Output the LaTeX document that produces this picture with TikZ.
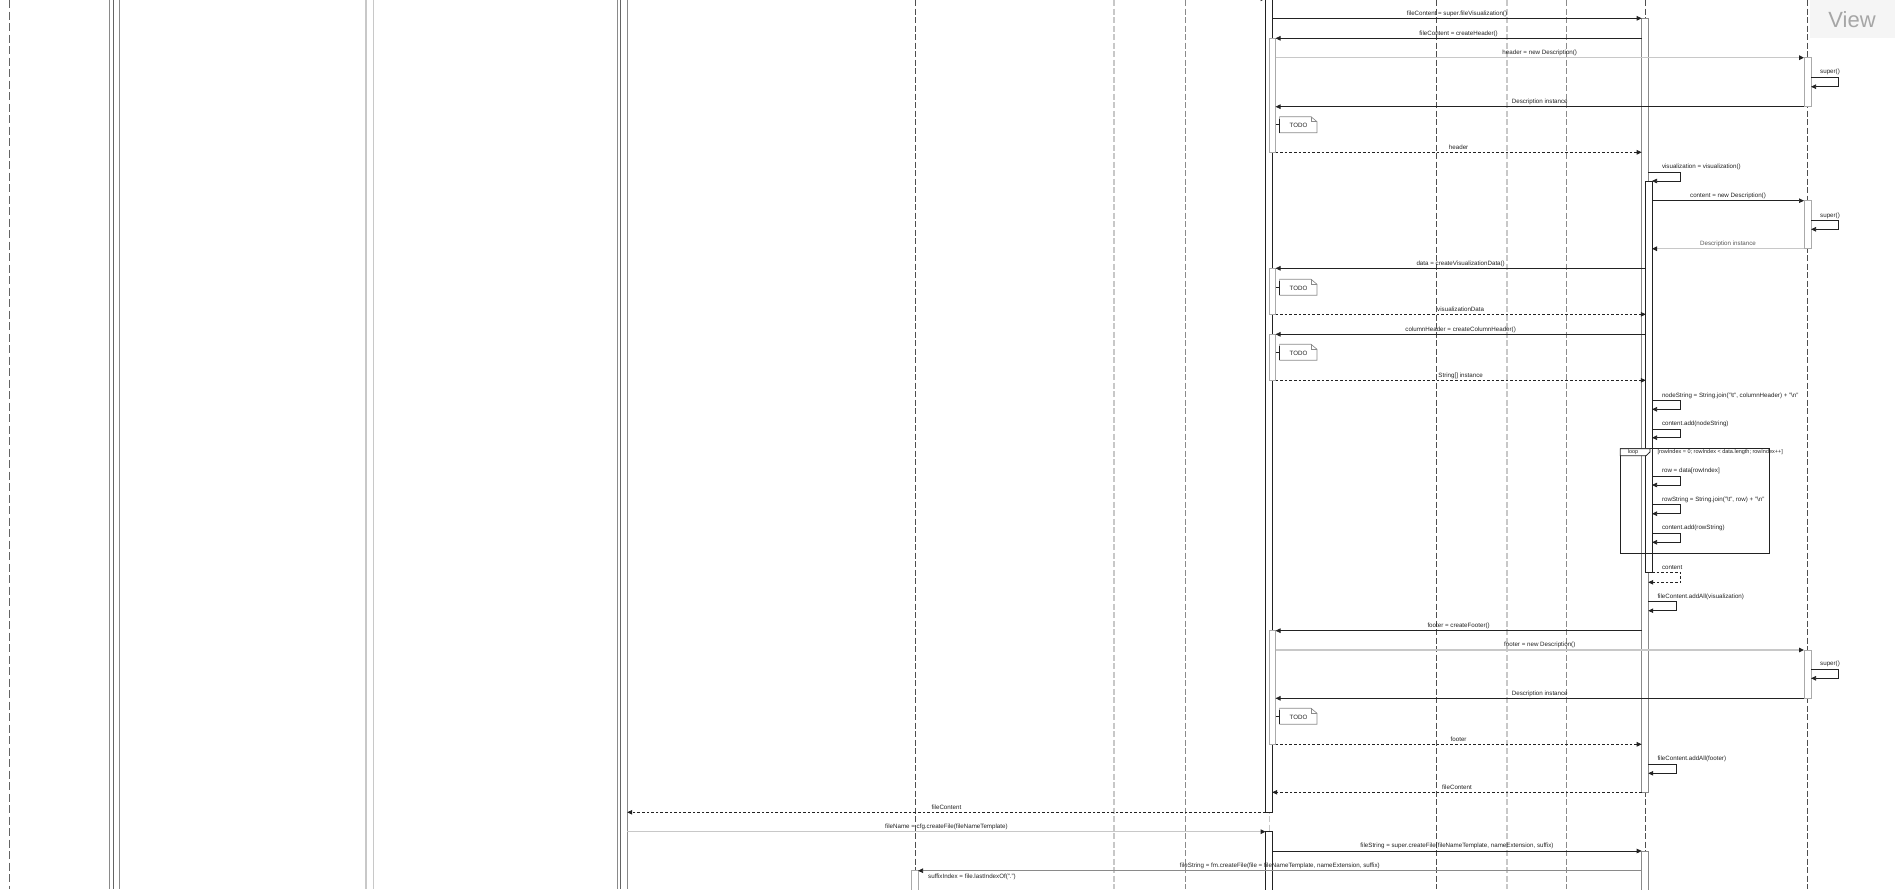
\documentclass[tikz,border=0pt]{standalone}
\usepackage{fontspec}
\setmainfont{Liberation Sans}
\usetikzlibrary{arrows.meta}

\definecolor{ink}{HTML}{222222}
\definecolor{midgray}{HTML}{8A8A8A}
\definecolor{softgray}{HTML}{C8C8C8}
\definecolor{viewbg}{HTML}{F5F5F5}
\definecolor{viewtxt}{HTML}{A6A6A6}

\tikzset{
  lifeline/.style={draw=ink!80, line width=0.7pt, dash pattern=on 6pt off 2.5pt},
  lifesoft/.style={draw=softgray, line width=1.4pt, dash pattern=on 6pt off 2.5pt},
  lifemid/.style={draw=midgray, line width=0.8pt, dash pattern=on 6pt off 2.5pt},
  railmid/.style={draw=midgray, line width=0.7pt},
  raildark/.style={draw=ink!70, line width=0.9pt},
  railsoft/.style={draw=softgray, line width=1.4pt},
  actdark/.style={draw=ink, fill=white, line width=0.75pt},
  actmid/.style={draw=midgray, fill=white, line width=0.75pt},
  actsoft/.style={draw=softgray!85!black, fill=white, line width=0.75pt},
  tip/.style={-{Triangle[length=5pt,width=4.5pt,color=ink]}},
  call/.style={draw=ink, line width=0.7pt, tip},
  callsoft/.style={draw=softgray, line width=1.4pt, tip},
  callmid/.style={draw=midgray, line width=0.7pt, tip},
  reply/.style={draw=ink, line width=0.7pt, dash pattern=on 2.6pt off 2pt, tip},
  lbl/.style={font=\fontsize{6.2}{7}\selectfont, text=ink, inner sep=0pt},
  notebox/.style={draw=midgray, fill=white, line width=0.65pt},
}

% message between two lifelines: name, style, x from, x to, y, label
\newcommand\msgline[6]{%
  \coordinate (#1s) at (#3,#5);
  \coordinate (#1e) at (#4,#5);
  \draw[#2] (#1s) -- node[lbl, anchor=base, yshift=3.1pt] (#1l) {#6} (#1e);}

% self message: name, style, x out, x right, x back, y top, y bottom
\newcommand\selfline[7]{%
  \coordinate (#1s) at (#3,#6);
  \coordinate (#1e) at (#5,#7);
  \draw[#2] (#1s) -- (#4,#6) -- (#4,#7) -- (#1e);}

% note attached to the controller bar: name, top y
\newcommand\todonote[2]{%
  \coordinate (#1a) at (1275.5,#2+8);
  \coordinate (#1b) at (1279.6,#2+8);
  \draw[notebox] (1279.6,#2) -- (1311,#2) -- (1317,#2+5) -- (1317,#2+16) -- (1279.6,#2+16) -- cycle;
  \draw[midgray, line width=0.5pt] (1311,#2) -- (1311,#2+5) -- (1317,#2+5);
  \draw[ink, line width=0.75pt] (1279.6,#2+2) -- (1279.6,#2+16);
  \draw[ink, line width=0.65pt] (#1a) -- (#1b);
  \node[lbl] (#1t) at (1298.5,#2+8.6) {TODO};}

\begin{document}
\begin{tikzpicture}[x=1pt, y=-1pt]
\useasboundingbox (0,0) rectangle (1895,889);
\clip (0,0) rectangle (1895,889);

% ---- lifelines ----
\draw[lifeline, draw=ink!70, dash pattern=on 8pt off 3.5pt] (9.5,0) -- (9.5,889);
\draw[railmid] (109.3,0) -- (109.3,889);
\draw[raildark] (113.3,0) -- (113.3,889);
\draw[railmid] (119.3,0) -- (119.3,889);
\draw[railsoft] (366,0) -- (366,889);
\draw[railsoft, line width=1pt] (373.3,0) -- (373.3,889);
\draw[railmid] (617.2,0) -- (617.2,889);
\draw[raildark] (620.6,0) -- (620.6,889);
\draw[railmid] (627.2,0) -- (627.2,889);
\draw[lifeline] (915.5,0) -- (915.5,889);
\draw[lifesoft] (1114,0) -- (1114,889);
\draw[lifemid] (1185.5,0) -- (1185.5,889);
\draw[lifesoft, line width=1pt] (1269,0) -- (1269,889);
\draw[lifeline] (1436,0) -- (1436,889);
\draw[lifesoft] (1507,0) -- (1507,889);
\draw[lifemid] (1566,0) -- (1566,889);
\draw[lifeline] (1645,0) -- (1645,889);
\draw[lifeline] (1807.5,0) -- (1807.5,889);

% ---- header of the View lifeline ----
\fill[viewbg] (1809.5,0) rectangle (1895,38.3);
\node[font=\fontsize{22}{24}\selectfont, text=viewtxt, inner sep=0pt] (view) at (1852,20) {View};

% ---- activation bars ----
\draw[actdark] (1265.6,-5) rectangle (1272.2,812.3);
\draw[actdark] (1265.6,831.7) rectangle (1272.2,895);
\draw[actsoft] (1269,38.3) rectangle (1275.5,152.3);
\draw[actsoft] (1269,268.3) rectangle (1275.5,314.3);
\draw[actsoft] (1269,334.3) rectangle (1275.5,380.3);
\draw[actsoft] (1269,630.7) rectangle (1275.5,744.3);
\draw[actmid] (1641.7,18.3) rectangle (1648.2,792.3);
\draw[actdark] (1645.8,181) rectangle (1652,572.7);
\draw[actmid] (1641.7,851) rectangle (1648.2,895);
\draw[actsoft] (1804,57.7) rectangle (1811,106.7);
\draw[actsoft] (1804,200.7) rectangle (1811,248.7);
\draw[actsoft] (1804,650) rectangle (1811,698.3);
\draw[actsoft] (911,870.7) rectangle (918,895);

% ---- incoming call cut at the top ----
\coordinate (m0s) at (1150,-1.3);
\coordinate (m0e) at (1265.6,-1.3);
\draw[callsoft] (m0s) -- (m0e);

% ---- header ----
\msgline{m1}{call}{1272.2}{1641.7}{18.3}{fileContent = super.fileVisualization()}
\msgline{m2}{call}{1641.7}{1275.5}{38.3}{fileContent = createHeader()}
\msgline{m3}{callsoft}{1275.5}{1804}{57.7}{header = new Description()}
\selfline{s1}{call}{1811}{1838.3}{1811}{77.3}{86.7}
\node[lbl, anchor=base] (s1l) at (1830,77.3-3.5) {super()};
\msgline{m4}{call}{1804}{1275.5}{106.7}{Description instance}
\todonote{n1}{116.7}
\msgline{m5}{reply}{1275.5}{1641.7}{152.3}{header}

% ---- visualization ----
\selfline{s2}{call}{1648.2}{1680.7}{1652}{172.3}{181}
\node[lbl, anchor=base west] (s2l) at (1661.8,172.3-3.5) {visualization = visualization()};
\msgline{m6}{call}{1652}{1804}{200.7}{content = new Description()}
\selfline{s3}{call}{1811}{1838.3}{1811}{220.7}{229.3}
\node[lbl, anchor=base] (s3l) at (1830,220.7-3.5) {super()};
\msgline{m7}{callsoft}{1804}{1652}{248.7}{\textcolor{ink!75}{Description instance}}
\msgline{m8}{call}{1645.8}{1275.5}{268.3}{data = createVisualizationData()}
\todonote{n2}{279.3}
\msgline{m9}{reply}{1275.5}{1645.8}{314.3}{visualizationData}
\msgline{m10}{call}{1645.8}{1275.5}{334.3}{columnHeader = createColumnHeader()}
\todonote{n3}{344.3}
\msgline{m11}{reply}{1275.5}{1645.8}{380.3}{String[] instance}
\selfline{s4}{call}{1652}{1680.7}{1652}{400.7}{409.3}
\node[lbl, anchor=base west] (s4l) at (1661.8,400.7-3.5) {nodeString = String.join("\textbackslash t", columnHeader) + "\textbackslash n"};
\selfline{s5}{call}{1652}{1680.7}{1652}{429}{437.7}
\node[lbl, anchor=base west] (s5l) at (1661.8,429-3.5) {content.add(nodeString)};

% ---- loop over the rows ----
\selfline{s6}{call}{1652}{1680.7}{1652}{476}{485}
\node[lbl, anchor=base west] (s6l) at (1661.8,476-3.5) {row = data[rowIndex]};
\selfline{s7}{call}{1652}{1680.7}{1652}{504.7}{513.7}
\node[lbl, anchor=base west] (s7l) at (1661.8,504.7-3.5) {rowString = String.join("\textbackslash t", row) + "\textbackslash n"};
\selfline{s8}{call}{1652}{1680.7}{1652}{533.3}{542.3}
\node[lbl, anchor=base west] (s8l) at (1661.8,533.3-3.5) {content.add(rowString)};
\draw[ink, line width=0.9pt] (1620.2,448.7) rectangle (1769.6,553);
\draw[ink, line width=0.75pt, fill=white] (1620.2,448.7) -- (1650,448.7) -- (1650,452) -- (1646,455.7) -- (1620.2,455.7) -- cycle;
\node[lbl, font=\fontsize{5.4}{6}\selectfont] (loopl) at (1633,452.4) {loop};
\node[lbl, anchor=west, font=\fontsize{5.5}{6}\selectfont] (guard) at (1657.3,452.4) {[rowIndex = 0; rowIndex < data.length; rowIndex++]};

\selfline{s9}{reply}{1652}{1680.7}{1648.2}{572.7}{582.3}
\node[lbl, anchor=base west] (s9l) at (1661.8,572.7-3.5) {content};
\selfline{s10}{call}{1648.2}{1676.6}{1648.2}{601.7}{610.7}
\node[lbl, anchor=base west] (s10l) at (1657.3,601.7-3.5) {fileContent.addAll(visualization)};

% ---- footer ----
\msgline{m12}{call}{1641.7}{1275.5}{630.7}{footer = createFooter()}
\msgline{m13}{callsoft}{1275.5}{1804}{650}{footer = new Description()}
\selfline{s11}{call}{1811}{1838.3}{1811}{669.3}{678.3}
\node[lbl, anchor=base] (s11l) at (1830,669.3-3.5) {super()};
\msgline{m14}{call}{1804}{1275.5}{698.3}{Description instance}
\todonote{n4}{708.3}
\msgline{m15}{reply}{1275.5}{1641.7}{744.3}{footer}
\selfline{s12}{call}{1648.2}{1676.6}{1648.2}{764}{773.3}
\node[lbl, anchor=base west] (s12l) at (1657.3,764-3.5) {fileContent.addAll(footer)};
\msgline{m16}{reply}{1641.7}{1272.2}{792.3}{fileContent}
\msgline{m17}{reply}{1265.6}{627.2}{812.3}{fileContent}

% ---- file creation ----
\msgline{m18}{callsoft}{627.2}{1265.6}{831.7}{fileName = cfg.createFile(fileNameTemplate)}
\msgline{m19}{call}{1272.2}{1641.7}{851}{fileString = super.createFile(fileNameTemplate, nameExtension, suffix)}
\msgline{m20}{callmid}{1641.7}{918}{870.7}{fileString = fm.createFile(file = fileNameTemplate, nameExtension, suffix)}
\node[lbl, anchor=base west] (s13l) at (928,878.3) {suffixIndex = file.lastIndexOf(".")};
\end{tikzpicture}
\end{document}
